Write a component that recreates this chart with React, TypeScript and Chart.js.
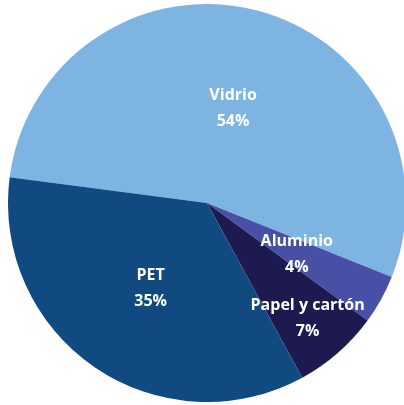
import React, { useEffect, useRef } from "react";
import { Chart, registerables } from "chart.js";

Chart.register(...registerables);

const categories = ["Vidrio", "Aluminio", "Papel y cartón", "PET"];
const values = [54, 4, 7, 35];
const percentLabels = ["54%", "4%", "7%", "35%"];
const colors = ["#7db4e1", "#4850a6", "#1c1a4f", "#114a80"];

const labelPlugin = {
  id: "sliceLabels",
  afterDatasetsDraw(chart: any) {
    const ctx = chart.ctx;
    const meta = chart.getDatasetMeta(0);
    const radiusFactor = [0.5, 0.51, 0.76, 0.51];
    ctx.save();
    ctx.fillStyle = "#ffffff";
    ctx.font = "bold 16px 'Open Sans'";
    ctx.textAlign = "center";
    ctx.textBaseline = "middle";
    meta.data.forEach((arc: any, i: number) => {
      const p = arc.getProps(["x", "y", "startAngle", "endAngle", "outerRadius"], true);
      const mid = (p.startAngle + p.endAngle) / 2;
      const r = p.outerRadius * radiusFactor[i];
      const x = p.x + Math.cos(mid) * r + 1;
      const y = p.y + Math.sin(mid) * r + 2;
      ctx.fillText(categories[i], x, y - 13);
      ctx.fillText(percentLabels[i], x, y + 13);
    });
    ctx.restore();
  },
};

export default function App() {
  const ref = useRef<HTMLCanvasElement | null>(null);
  useEffect(() => {
    if (!ref.current) return;
    const chart = new Chart(ref.current, {
      type: "pie",
      data: {
        labels: categories,
        datasets: [
          {
            data: values,
            backgroundColor: colors,
            borderWidth: 0,
          },
        ],
      },
      options: {
        responsive: false,
        animation: false,
        rotation: 277.4,
        layout: { padding: 0 },
        plugins: {
          legend: { display: false },
          tooltip: { enabled: false },
        },
      },
      plugins: [labelPlugin],
    });
    return () => chart.destroy();
  }, []);
  return (
    <div style={{ position: "absolute", left: 0, top: 0, width: 404, height: 405, background: "#fff" }}>
      <canvas
        ref={ref}
        width={398}
        height={398}
        style={{ position: "absolute", left: 8, top: 4, width: 398, height: 398 }}
      />
    </div>
  );
}
